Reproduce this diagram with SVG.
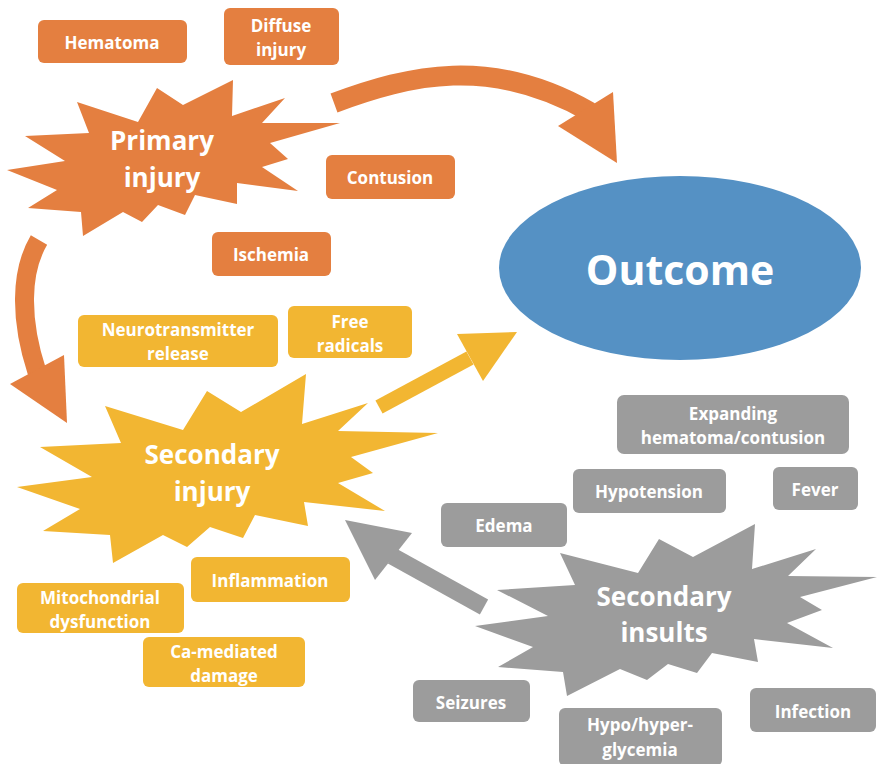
<svg xmlns="http://www.w3.org/2000/svg" width="877" height="764" viewBox="0 0 877 764">
<style>
.o{fill:#E47F40}
.y{fill:#F2B632}
.g{fill:#9C9C9C}
.b{fill:#5591C4}
.t{font-family:"Open Sans","Liberation Sans",sans-serif;font-weight:700;fill:#fff;text-anchor:middle;font-size:17px}
.s{font-size:26px}
.big{font-size:41px}
.so{stroke:#E47F40;fill:none}
.sy{stroke:#F2B632;fill:none}
.sg{stroke:#9C9C9C;fill:none}
</style>
<rect width="877" height="764" fill="#fff"/>
<g id="connectors">
<path class="so" d="M334,103 C410,75 490,55 590,112" stroke-width="20"/>
<polygon class="o" points="613,92 617,163 558,126"/>
<path class="so" d="M39,240 C20,272 20,320 37,372" stroke-width="19"/>
<polygon class="o" points="10,384 64,355 67,423"/>
<path class="sy" d="M379,407 L470,358" stroke-width="15"/>
<polygon class="y" points="457,334 517,332 483,381"/>
<path class="sg" d="M484,607 L392,556" stroke-width="17"/>
<polygon class="g" points="345,520 412,533 375,580"/>
</g>
<g id="primary-injury">
<polygon class="o" points="77,102 138,122 157,88 183,105 233,80 232,116 285,98 262,123 340,123 270,143 288,159 262,167 298,191 237,183 237,204 195,195 185,215 158,205 142,222 123,212 83,236 81,212 28,208 57,190 7,170 65,161 25,136 89,133"/>
<text class="t s" x="162" y="150">Primary</text>
<text class="t s" x="162" y="187">injury</text>
</g>
<g id="secondary-injury">
<polygon class="y" points="105,406 183,430 207,391 241,412 306,374 302,424 368,403 338,431 438,433 351,457 373,473 338,483 385,511 304,502 308,526 255,515 243,538 210,527 187,547 163,535 113,563 110,535 43,531 80,509 17,487 92,477 40,447 121,443"/>
<text class="t s" x="212" y="464">Secondary</text>
<text class="t s" x="212" y="501">injury</text>
</g>
<g id="secondary-insults">
<polygon class="g" points="560,553 638,573 659,539 693,557 755,524 752,569 816,549 788,576 877,577 800,597 822,610 787,623 833,648 754,639 758,662 712,653 697,673 668,664 647,680 620,669 567,696 563,672 498,667 533,647 475,626 548,616 497,590 575,585"/>
<text class="t s" x="664" y="606">Secondary</text>
<text class="t s" x="664" y="642">insults</text>
</g>
<g id="outcome">
<ellipse class="b" cx="680" cy="268" rx="181" ry="92"/>
<text class="t big" x="680" y="285">Outcome</text>
</g>
<g id="hematoma"><rect class="o" x="38" y="20" width="149" height="43" rx="6"/><text class="t" x="112" y="49">Hematoma</text></g>
<g id="diffuse-injury"><rect class="o" x="224" y="8" width="115" height="57" rx="6"/><text class="t" x="281" y="32">Diffuse</text><text class="t" x="281" y="56">injury</text></g>
<g id="contusion"><rect class="o" x="326" y="155" width="129" height="44" rx="6"/><text class="t" x="390" y="184">Contusion</text></g>
<g id="ischemia"><rect class="o" x="212" y="232" width="119" height="44" rx="6"/><text class="t" x="271" y="261">Ischemia</text></g>
<g id="neurotransmitter-release"><rect class="y" x="78" y="315" width="200" height="52" rx="6"/><text class="t" x="178" y="336">Neurotransmitter</text><text class="t" x="178" y="360">release</text></g>
<g id="free-radicals"><rect class="y" x="288" y="306" width="124" height="52" rx="6"/><text class="t" x="350" y="328">Free</text><text class="t" x="350" y="352">radicals</text></g>
<g id="inflammation"><rect class="y" x="191" y="557" width="159" height="45" rx="6"/><text class="t" x="270" y="587">Inflammation</text></g>
<g id="mitochondrial-dysfunction"><rect class="y" x="17" y="583" width="167" height="50" rx="6"/><text class="t" x="100" y="604">Mitochondrial</text><text class="t" x="100" y="628">dysfunction</text></g>
<g id="ca-mediated-damage"><rect class="y" x="143" y="637" width="162" height="50" rx="6"/><text class="t" x="224" y="658">Ca-mediated</text><text class="t" x="224" y="682">damage</text></g>
<g id="expanding-hematoma"><rect class="g" x="617" y="395" width="232" height="59" rx="7"/><text class="t" x="733" y="420">Expanding</text><text class="t" x="733" y="444">hematoma/contusion</text></g>
<g id="hypotension"><rect class="g" x="573" y="469" width="153" height="44" rx="6"/><text class="t" x="649" y="498">Hypotension</text></g>
<g id="fever"><rect class="g" x="773" y="467" width="85" height="43" rx="6"/><text class="t" x="815" y="496">Fever</text></g>
<g id="edema"><rect class="g" x="441" y="503" width="126" height="44" rx="6"/><text class="t" x="504" y="532">Edema</text></g>
<g id="seizures"><rect class="g" x="413" y="680" width="117" height="42" rx="6"/><text class="t" x="471" y="709">Seizures</text></g>
<g id="hypo-hyperglycemia"><rect class="g" x="559" y="708" width="163" height="58" rx="6"/><text class="t" x="640" y="731">Hypo/hyper-</text><text class="t" x="640" y="756">glycemia</text></g>
<g id="infection"><rect class="g" x="750" y="688" width="126" height="44" rx="6"/><text class="t" x="813" y="718">Infection</text></g>
</svg>
